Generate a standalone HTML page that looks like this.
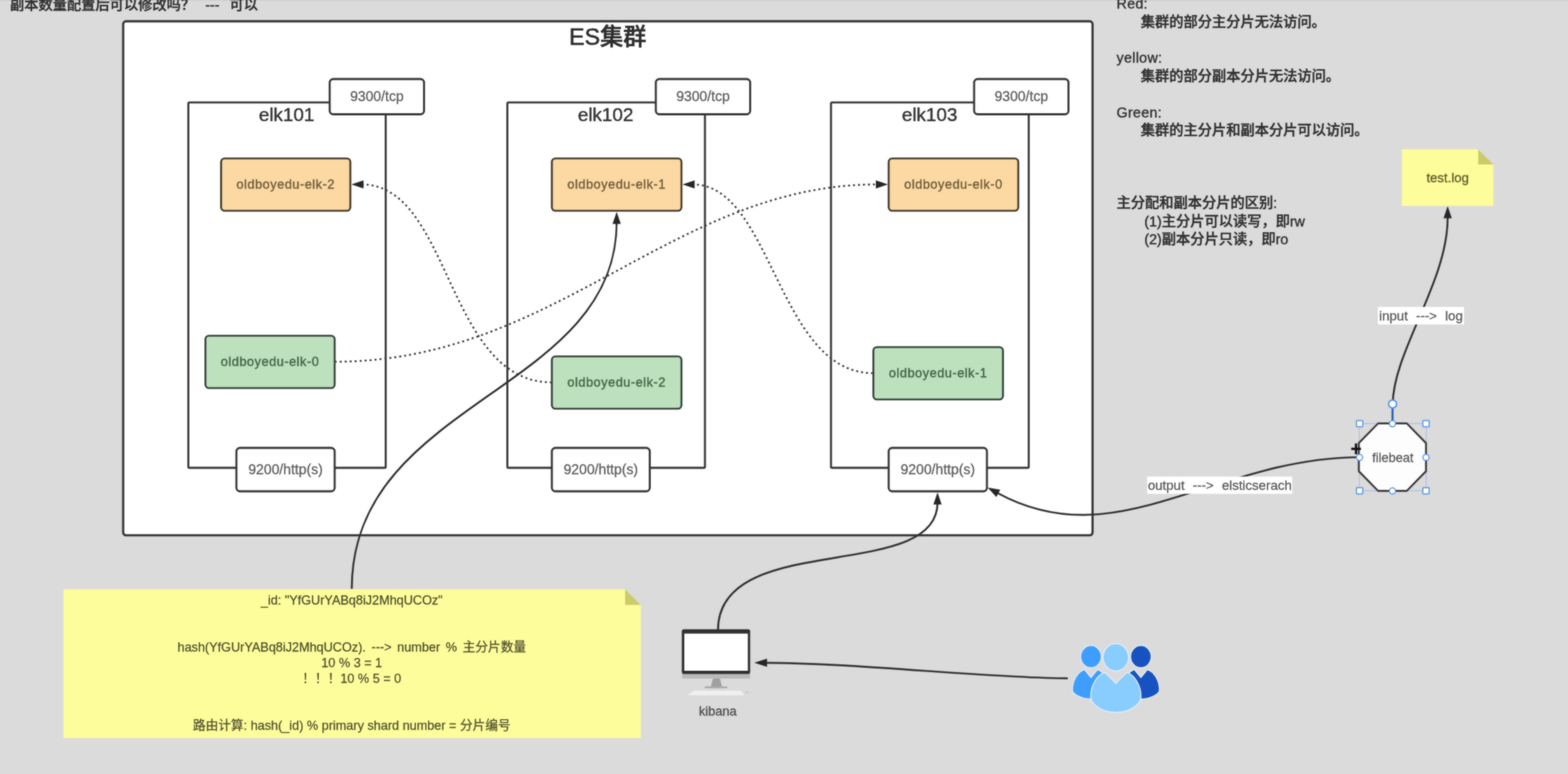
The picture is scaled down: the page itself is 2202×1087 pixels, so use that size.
<!DOCTYPE html>
<html lang="zh-CN"><head><meta charset="utf-8"><title>ES集群</title>
<style>
html,body{margin:0;padding:0;background:#dbdbdb;}
body{width:2202px;height:1087px;overflow:hidden;position:relative;}
svg{position:absolute;left:0;top:0;display:block;}
text{font-family:"Liberation Sans","Noto Sans CJK SC",sans-serif;white-space:pre;}
.m{text-anchor:middle;}
.box{fill:#fff;stroke:#333;stroke-width:2.8;}
.ln{fill:none;stroke:#303030;stroke-width:2.7;}
.dot{fill:none;stroke:#3c3c3c;stroke-width:2.6;stroke-dasharray:2.8 4.2;}
.port{font-size:19.6px;fill:#5c5c5c;stroke:#5c5c5c;stroke-width:0.3px;}
.node{font-size:26.5px;fill:#333;stroke:#333;stroke-width:0.5px;}
.sh{font-size:17.9px;letter-spacing:0.73px;stroke-width:0.45px;}
.rt{font-size:20px;fill:#2e2e2e;font-weight:500;stroke:#2e2e2e;stroke-width:0.45px;}
.la{letter-spacing:0.45px;}
.nt{font-size:17.8px;fill:#4c4c2c;stroke:#4c4c2c;stroke-width:0.25px;}
.lb{font-size:18.6px;fill:#585858;stroke:#585858;stroke-width:0.3px;word-spacing:6.3px;}
.hs{fill:#fff;stroke:#5a98ea;stroke-width:1.7;}
</style></head><body>
<svg width="2202" height="1087" viewBox="0 0 2202 1087">
<defs><filter id="soft" color-interpolation-filters="sRGB" x="-10" y="-10" width="2222" height="1107" filterUnits="userSpaceOnUse"><feGaussianBlur in="SourceGraphic" stdDeviation="1" result="b"/><feComposite in="b" in2="SourceGraphic" operator="arithmetic" k1="0" k2="0.55" k3="0.45" k4="0"/></filter></defs>
<rect x="0" y="0" width="2202" height="1087" fill="#dbdbdb"/>
<g filter="url(#soft)">
<rect x="-10" y="-10" width="2222" height="1107" fill="#dbdbdb"/>
<rect x="0" y="0" width="2202" height="1.2" fill="#cbcbcb"/>
<text class="rt" x="14" y="13.9" style="word-spacing:8.6px">副本数量配置后可以修改吗？ --- 可以</text>
<rect class="box" x="173" y="29.9" width="1361.3" height="721.9" rx="4" style="stroke-width:3.1"/>
<text class="m" x="853.5" y="63.3" style="font-size:32.5px;font-weight:500;fill:#2c2c2c;stroke:#2c2c2c;stroke-width:0.7px">ES集群</text>
<rect x="264.5" y="143.9" width="277.20000000000005" height="513.1" rx="1.5" fill="#fff" stroke="#333" stroke-width="2.8"/>
<text class="m node" x="402.5" y="170">elk101</text>
<rect class="box" x="463" y="111" width="132.5" height="49.5" rx="5"/>
<text class="m port" x="529.25" y="142.3">9300/tcp</text>
<rect class="box" x="332" y="629" width="138" height="61" rx="5"/>
<text class="m port" x="401.0" y="666.3">9200/http(s)</text>
<rect x="712.5" y="143.9" width="277.5" height="513.1" rx="1.5" fill="#fff" stroke="#333" stroke-width="2.8"/>
<text class="m node" x="850.5" y="170">elk102</text>
<rect class="box" x="921" y="111" width="132.5" height="49.5" rx="5"/>
<text class="m port" x="987.25" y="142.3">9300/tcp</text>
<rect class="box" x="775" y="629" width="137.5" height="61" rx="5"/>
<text class="m port" x="843.75" y="666.3">9200/http(s)</text>
<rect x="1167" y="143.9" width="277.70000000000005" height="513.1" rx="1.5" fill="#fff" stroke="#333" stroke-width="2.8"/>
<text class="m node" x="1305.5" y="170">elk103</text>
<rect class="box" x="1368" y="111" width="132.5" height="49.5" rx="5"/>
<text class="m port" x="1434.25" y="142.3">9300/tcp</text>
<rect class="box" x="1248" y="629" width="138" height="61" rx="5"/>
<text class="m port" x="1317.0" y="666.3">9200/http(s)</text>
<path class="dot" d="M775,537 C626.6,537 633.4,259 508,259"/>
<path d="M493.5,259.0 L510.5,253.2 L510.5,264.8 Z" fill="#262626"/>
<path class="dot" d="M470,508 C782.5,508 944.7,259 1232,259"/>
<path d="M1247.0,259.0 L1230.0,264.8 L1230.0,253.2 Z" fill="#262626"/>
<path class="dot" d="M1226,524 C1092.3,524 1084.3,259 973,259"/>
<path d="M958.5,259.0 L975.5,253.2 L975.5,264.8 Z" fill="#262626"/>
<path class="ln" d="M494,827 C494,561 866,552 866,312"/>
<path d="M866.0,297.5 L871.8,314.5 L860.2,314.5 Z" fill="#262626"/>
<path class="ln" d="M1008.3,885 C1008.3,743.6 1316.6,819.2 1316.6,706"/>
<path d="M1316.6,691.5 L1322.4,708.5 L1310.8,708.5 Z" fill="#262626"/>
<path class="ln" d="M1499.5,952.6 C1390.4,952.6 1199.5,930.8 1074,930.8"/>
<path d="M1059.2,930.8 L1077.2,925.0 L1077.2,936.6 Z" fill="#262626"/>
<path class="ln" d="M1907,642 C1701.2,644.8 1567.4,782.9 1401.3,692.6"/>
<path d="M1387.0,684.8 L1404.7,687.8 L1399.2,698.0 Z" fill="#262626"/>
<path class="ln" d="M1955.8,568 C1956.5,493 2033,396 2033,306"/>
<path d="M2033.0,289.6 L2038.8,306.6 L2027.2,306.6 Z" fill="#262626"/>
<rect x="310.5" y="222.5" width="181.5" height="73.5" rx="5" fill="#fcd9a2" stroke="#40382c" stroke-width="2.7"/>
<text class="m sh" x="401.25" y="264.8" fill="#6e5c3c" stroke="#6e5c3c">oldboyedu-elk-2</text>
<rect x="288.5" y="471.5" width="181.5" height="73.5" rx="5" fill="#bde1bd" stroke="#34403a" stroke-width="2.7"/>
<text class="m sh" x="379.25" y="514.05" fill="#446446" stroke="#446446">oldboyedu-elk-0</text>
<rect x="775" y="222.5" width="182" height="73.5" rx="5" fill="#fcd9a2" stroke="#40382c" stroke-width="2.7"/>
<text class="m sh" x="866.0" y="264.8" fill="#6e5c3c" stroke="#6e5c3c">oldboyedu-elk-1</text>
<rect x="775" y="500.5" width="182" height="73.5" rx="5" fill="#bde1bd" stroke="#34403a" stroke-width="2.7"/>
<text class="m sh" x="866.0" y="543.05" fill="#446446" stroke="#446446">oldboyedu-elk-2</text>
<rect x="1248" y="222.5" width="182" height="73.5" rx="5" fill="#fcd9a2" stroke="#40382c" stroke-width="2.7"/>
<text class="m sh" x="1339.0" y="264.8" fill="#6e5c3c" stroke="#6e5c3c">oldboyedu-elk-0</text>
<rect x="1226.5" y="487.5" width="182.0" height="73.5" rx="5" fill="#bde1bd" stroke="#34403a" stroke-width="2.7"/>
<text class="m sh" x="1317.5" y="530.05" fill="#446446" stroke="#446446">oldboyedu-elk-1</text>
<text class="rt la" x="1568" y="12">Red:</text>
<text class="rt" x="1602" y="37.5">集群的部分主分片无法访问。</text>
<text class="rt la" x="1568" y="88">yellow:</text>
<text class="rt" x="1602" y="114">集群的部分副本分片无法访问。</text>
<text class="rt la" x="1568" y="164.5">Green:</text>
<text class="rt" x="1602" y="190">集群的主分片和副本分片可以访问。</text>
<text class="rt" x="1568" y="292">主分配和副本分片的区别:</text>
<text class="rt" x="1607" y="317.5">(1)主分片可以读写，即rw</text>
<text class="rt" x="1607" y="343">(2)副本分片只读，即ro</text>
<path d="M1968.8,209.7 L2075.8999999999996,209.7 L2097.2,231.0 L2097.2,289.3 L1968.8,289.3 Z" fill="#fefd9b"/>
<path d="M2075.8999999999996,209.7 L2097.2,231.0 L2075.8999999999996,231.0 Z" fill="#cbca6c"/>
<text class="m" x="2033" y="256" style="font-size:18.5px;fill:#5a5a26;stroke:#5a5a26;stroke-width:0.3px">test.log</text>
<rect x="1935" y="431" width="121" height="24.7" fill="#fff"/>
<text class="m lb" x="1995.5" y="449.8">input ---> log</text>
<rect x="1611" y="669.3" width="203.8" height="24.2" fill="#fff"/>
<text class="m lb" x="1713" y="688">output ---> elsticserach</text>
<path d="M89.1,827.4 L877.9,827.4 L899.9,849.4 L899.9,1036.4 L89.1,1036.4 Z" fill="#fefd9b"/>
<path d="M877.9,827.4 L899.9,849.4 L877.9,849.4 Z" fill="#cbca6c"/>
<text class="m nt" x="494" y="848.9">_id: "YfGUrYABq8iJ2MhqUCOz"</text>
<text class="m nt" x="494" y="915.3" style="word-spacing:3px">hash(YfGUrYABq8iJ2MhqUCOz). ---> number % 主分片数量</text>
<text class="m nt" x="494" y="937.3">10 % 3 = 1</text>
<text class="m nt" x="494" y="959.3">！！！10 % 5 = 0</text>
<text class="m nt" x="494" y="1024.8">路由计算: hash(_id) % primary shard number = 分片编号</text>
<polygon points="1935.3,594.6 1975.6,594.6 2002.6,622.2 2002.6,661.8 1975.6,689.4 1935.3,689.4 1908.2,661.8 1908.2,622.2" fill="#fdfdfd"/>
<rect x="1909" y="594.8" width="93.8" height="94.4" fill="none" stroke="#a9bde6" stroke-width="1.2"/>
<polygon points="1935.3,594.6 1975.6,594.6 2002.6,622.2 2002.6,661.8 1975.6,689.4 1935.3,689.4 1908.2,661.8 1908.2,622.2" fill="none" stroke="#3a3a3a" stroke-width="2.7" stroke-linejoin="round"/>
<text class="m" x="1956" y="649" style="font-size:18px;fill:#585858;stroke:#585858;stroke-width:0.3px">filebeat</text>
<line x1="1955.6" y1="572" x2="1955.6" y2="592" stroke="#2f62b8" stroke-width="3"/>
<rect class="hs" x="1904.8999999999999" y="590.6" width="8.8" height="8.8" rx="0.8"/>
<rect class="hs" x="1998.1999999999998" y="590.6" width="8.8" height="8.8" rx="0.8"/>
<rect class="hs" x="1904.8999999999999" y="684.8000000000001" width="8.8" height="8.8" rx="0.8"/>
<rect class="hs" x="1998.1999999999998" y="684.8000000000001" width="8.8" height="8.8" rx="0.8"/>
<circle class="hs" cx="1955.5" cy="595" r="4.3"/>
<circle class="hs" cx="2002.6" cy="642.4" r="4.3"/>
<circle class="hs" cx="1955.5" cy="689.4" r="4.3"/>
<circle class="hs" cx="1909.3" cy="642.4" r="4.3"/>
<circle class="hs" cx="1955.7" cy="567.4" r="5.6" style="stroke-width:2.2"/>
<path d="M1897.6,630.4 H1911.2 M1904.3,622.8 V638" stroke="#111" stroke-width="3.2" fill="none"/>
<path d="M974,970 L1040.5,970 L1045,976.5 L966,976.5 Z" fill="#f0f0f0"/>
<rect x="1046.5" y="971.5" width="5" height="2" rx="1" fill="#c4c4c4"/>
<path d="M1001.5,952.5 L1011,952.5 L1014,965 L998,965 Z" fill="#a0a0a0"/>
<rect x="989.5" y="964" width="32" height="2.6" rx="1.3" fill="#a8a8a8"/>
<rect x="957.8" y="944" width="95.6" height="9" rx="1.5" fill="#b9b9b9"/>
<rect x="957.5" y="883.8" width="96" height="62.6" rx="3" fill="#303030"/>
<rect x="961" y="889.8" width="89.2" height="52.2" fill="#fff"/>
<text class="m" x="1008" y="1004.5" style="font-size:18px;fill:#4c4c4c;stroke:#4c4c4c;stroke-width:0.3px">kibana</text>
<path d="M1523.0,940.2 C1514.0,943 1506.0,955 1506.0,969 C1506.0,974.5 1518.0,981.7 1532.0,981.7 L1546.0,981.7 L1552.0,950 C1550.0,946 1546.0,942 1541.3,940.2 L1532.1,951.5 Z" fill="#3f9dfd" stroke="#e4ecfb" stroke-width="1.5" stroke-linejoin="round"/>
<ellipse cx="1532.1" cy="922.2" rx="14.5" ry="15.6" fill="#3f9dfd" stroke="#e4ecfb" stroke-width="1.5"/>
<path d="M1611.3,940.2 C1620.3,943 1628.3,955 1628.3,969 C1628.3,974.5 1616.3,981.7 1602.3,981.7 L1588.3,981.7 L1582.3,950 C1584.3,946 1588.3,942 1593.0,940.2 L1602.2,951.5 Z" fill="#1752c0" stroke="#e4ecfb" stroke-width="1.5" stroke-linejoin="round"/>
<ellipse cx="1602.2" cy="922.2" rx="14.5" ry="15.6" fill="#1752c0" stroke="#e4ecfb" stroke-width="1.5"/>
<path d="M1551.5,944.3 C1541,948 1531.7,962 1531.7,978.3 C1531.7,989 1547,1000.6 1567,1000.6 C1587,1000.6 1602.4,989 1602.4,978.3 C1602.4,962 1593,948 1582.5,944.3 L1567,959.8 Z" fill="#88cdfe" stroke="#e4ecfb" stroke-width="1.5" stroke-linejoin="round"/>
<ellipse cx="1567" cy="923.2" rx="17.9" ry="19.2" fill="#88cdfe" stroke="#e4ecfb" stroke-width="1.5"/>
</g>
</svg>
</body></html>
